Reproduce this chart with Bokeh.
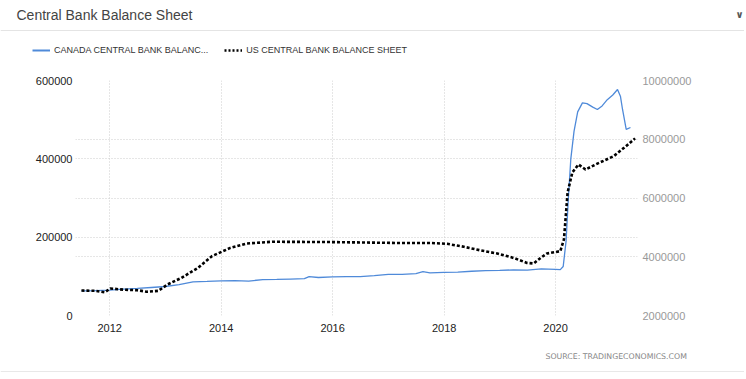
import pandas as pd
from bokeh.plotting import figure
from bokeh.models import (Range1d, LinearAxis, FixedTicker, BasicTickFormatter,
                          DatetimeTickFormatter, Grid, Label, Span,
                          Legend, LegendItem, ColumnDataSource)
from bokeh.embed import file_html
from bokeh.resources import INLINE

# ---------------- data ----------------
ca_dates = ["2011-06-30", "2011-09-30", "2011-12-31", "2012-03-31", "2012-06-30",
            "2012-09-30", "2012-12-31", "2013-03-31", "2013-06-30", "2013-09-30",
            "2013-12-31", "2014-03-31", "2014-06-30", "2014-09-30", "2014-12-31",
            "2015-03-31", "2015-06-30", "2015-07-31", "2015-09-30", "2015-12-31",
            "2016-03-31", "2016-06-30", "2016-09-30", "2016-12-31", "2017-03-31",
            "2017-06-30", "2017-08-15", "2017-09-30", "2017-12-31", "2018-03-31",
            "2018-06-30", "2018-09-30", "2018-12-31", "2019-03-31", "2019-06-30",
            "2019-09-30", "2019-12-31", "2020-02-01", "2020-02-20", "2020-03-10",
            "2020-03-25", "2020-04-10", "2020-05-01", "2020-05-25", "2020-06-25",
            "2020-07-25", "2020-09-01", "2020-10-01", "2020-11-01", "2020-12-05",
            "2021-01-10", "2021-02-10", "2021-03-01", "2021-03-15", "2021-04-08",
            "2021-05-06"]
ca_values = [63000, 63500, 65000, 67500, 69000,
             71500, 74000, 79000, 86000, 87000,
             88500, 89000, 88000, 91500, 92000,
             93000, 94000, 99000, 97000, 98500,
             99000, 99500, 102000, 105000, 105000,
             107000, 112000, 109000, 110000, 110500,
             113000, 114500, 115000, 116500, 116000,
             119000, 118000, 117000, 125000, 190000,
             300000, 400000, 470000, 520000, 543000,
             541000, 532000, 526000, 535000, 551000,
             563000, 577000, 560000, 526000, 475000,
             480000]

us_dates = ["2011-06-30", "2011-09-30", "2011-11-30", "2012-01-05", "2012-03-31",
            "2012-06-30", "2012-09-01", "2012-11-15", "2013-01-15", "2013-04-15",
            "2013-08-01", "2013-11-01", "2014-03-01", "2014-06-15", "2014-12-01",
            "2015-12-15", "2017-02-20", "2017-10-01", "2018-01-20", "2018-05-10",
            "2018-08-25", "2018-12-15", "2019-04-01", "2019-06-28", "2019-08-10",
            "2019-09-25", "2019-11-05", "2020-02-01", "2020-02-25", "2020-03-20",
            "2020-04-20", "2020-05-30", "2020-07-15", "2020-10-01", "2021-01-15",
            "2021-03-25", "2021-06-05"]
us_values = [2850000, 2840000, 2790000, 2920000, 2880000,
             2860000, 2810000, 2840000, 3060000, 3280000,
             3620000, 4020000, 4300000, 4450000, 4510000,
             4500000, 4470000, 4470000, 4440000, 4340000,
             4220000, 4110000, 3960000, 3790000, 3770000,
             3960000, 4110000, 4190000, 4590000, 6190000,
             6870000, 7140000, 6970000, 7170000, 7420000,
             7710000, 8030000]

x_tick_years = [2012, 2014, 2016, 2018, 2020]
left_ticks = [0, 200000, 400000, 600000]
right_ticks = [2000000, 4000000, 6000000, 8000000, 10000000]

ca_name = "CANADA CENTRAL BANK BALANC..."
us_name = "US CENTRAL BANK BALANCE SHEET"
title_text = "Central Bank Balance Sheet"
source_text = "SOURCE:   TRADINGECONOMICS.COM"

CA_COLOR = "#4f8ad9"
US_COLOR = "black"
FONT = "Liberation Sans"
W = 744


def ms(s):
    return pd.Timestamp(s).value / 1e6


def blank(height):
    f = figure(width=W, height=height, x_range=Range1d(0, W),
               y_range=Range1d(height, 0), output_backend="svg",
               toolbar_location=None, min_border=0,
               min_border_left=0, min_border_right=0,
               min_border_top=0, min_border_bottom=0,
               x_axis_location=None, y_axis_location=None)
    f.grid.visible = False
    f.outline_line_color = None
    f.background_fill_color = "white"
    f.border_fill_color = "white"
    return f


# ---------------- header (title, legend) ----------------
HEADER_H = 70
header = blank(HEADER_H)
header.add_layout(Label(x=16, y=14, text=title_text, text_font=FONT,
                        text_font_size="14px", text_color="#444444",
                        text_baseline="middle"))
header.add_layout(Label(x=739, y=14, text="\u2228", text_font="DejaVu Sans",
                        text_font_size="10px", text_font_style="bold",
                        text_color="#555555", text_baseline="middle",
                        text_align="center"))
header.add_layout(Span(location=30, dimension="width", line_color="#e4e4e4",
                       line_width=1))
# legend samples: renderers kept outside the visible header range
lg_ca = header.line([-50, -40], [-50, -50], line_color=CA_COLOR, line_width=2)
lg_us = header.line([-50, -40], [-50, -50], line_color=US_COLOR, line_width=2.5,
                    line_dash="2 2")
legend = Legend(items=[LegendItem(label=ca_name, renderers=[lg_ca]),
                       LegendItem(label=us_name, renderers=[lg_us])],
                orientation="horizontal", location=(32, 14),
                glyph_width=18, glyph_height=12, label_height=12,
                label_standoff=4, spacing=16, padding=0, margin=0,
                border_line_color=None, background_fill_alpha=0,
                label_text_font=FONT, label_text_font_size="9px",
                label_text_color="#333333")
header.add_layout(legend, "center")

# ---------------- main chart ----------------
ca_src = ColumnDataSource(dict(x=pd.to_datetime(ca_dates), y=ca_values))
us_src = ColumnDataSource(dict(x=pd.to_datetime(us_dates), y=us_values))

MAIN_H = 270
p = figure(width=W, height=MAIN_H, x_axis_type="datetime",
           x_range=Range1d(ms("2011-05-22"), ms("2021-06-21")),
           y_range=Range1d(0, 600000),
           output_backend="svg", toolbar_location=None,
           min_border_left=75, min_border_right=W - 637,
           min_border_top=10, min_border_bottom=MAIN_H - 10 - 235)
p.outline_line_color = None
p.background_fill_color = "white"
p.border_fill_color = "white"
p.extra_y_ranges = {"right": Range1d(2000000, 10000000)}

x_ticker = FixedTicker(ticks=[ms(f"{y}-01-01") for y in x_tick_years])
p.xaxis.ticker = x_ticker
p.xaxis.formatter = DatetimeTickFormatter(years="%Y", months="%Y", days="%Y",
                                          hours="%Y", minutes="%Y")
left_ticker = FixedTicker(ticks=left_ticks)
p.yaxis.ticker = left_ticker
p.yaxis.formatter = BasicTickFormatter(use_scientific=False)

right_ticker = FixedTicker(ticks=right_ticks)
raxis = LinearAxis(y_range_name="right", ticker=right_ticker,
                   formatter=BasicTickFormatter(use_scientific=False))
p.add_layout(raxis, "right")

for ax in [p.xaxis[0], p.yaxis[0], raxis]:
    ax.axis_line_color = None
    ax.major_tick_line_color = None
    ax.minor_tick_line_color = None
    ax.major_tick_out = 0
    ax.major_tick_in = 0
    ax.minor_tick_out = 0
    ax.minor_tick_in = 0
    ax.major_label_text_font = FONT
    ax.major_label_text_font_size = "11px"
    ax.major_label_text_color = "#222222"
p.yaxis[0].major_label_standoff = 3
raxis.major_label_standoff = 5
raxis.major_label_text_color = "#999999"
p.xaxis[0].major_label_standoff = 8

GRID_COLOR = "#cccccc"
p.xgrid.ticker = x_ticker
p.ygrid.ticker = left_ticker
for g in [p.xgrid[0], p.ygrid[0]]:
    g.grid_line_color = GRID_COLOR
    g.grid_line_dash = "1 2"
    g.grid_line_width = 1
p.add_layout(Grid(dimension=1, ticker=right_ticker, y_range_name="right",
                  grid_line_color=GRID_COLOR, grid_line_dash="1 2",
                  grid_line_width=1))

p.line("x", "y", source=ca_src, line_color=CA_COLOR, line_width=1.3)
p.line("x", "y", source=us_src, y_range_name="right", line_color=US_COLOR,
       line_width=2.6, line_dash="3 2")

# ---------------- footer (source) ----------------
FOOTER_H = 32
footer = blank(FOOTER_H)
footer.add_layout(Label(x=545, y=16, text=source_text, text_font="DejaVu Sans",
                        text_font_size="7.8px", text_color="#888888",
                        text_baseline="middle"))
footer.add_layout(Span(location=FOOTER_H - 1, dimension="width",
                       line_color="#e8e8e8", line_width=1))

open("out.html", "w").write(file_html([header, p, footer], INLINE))
